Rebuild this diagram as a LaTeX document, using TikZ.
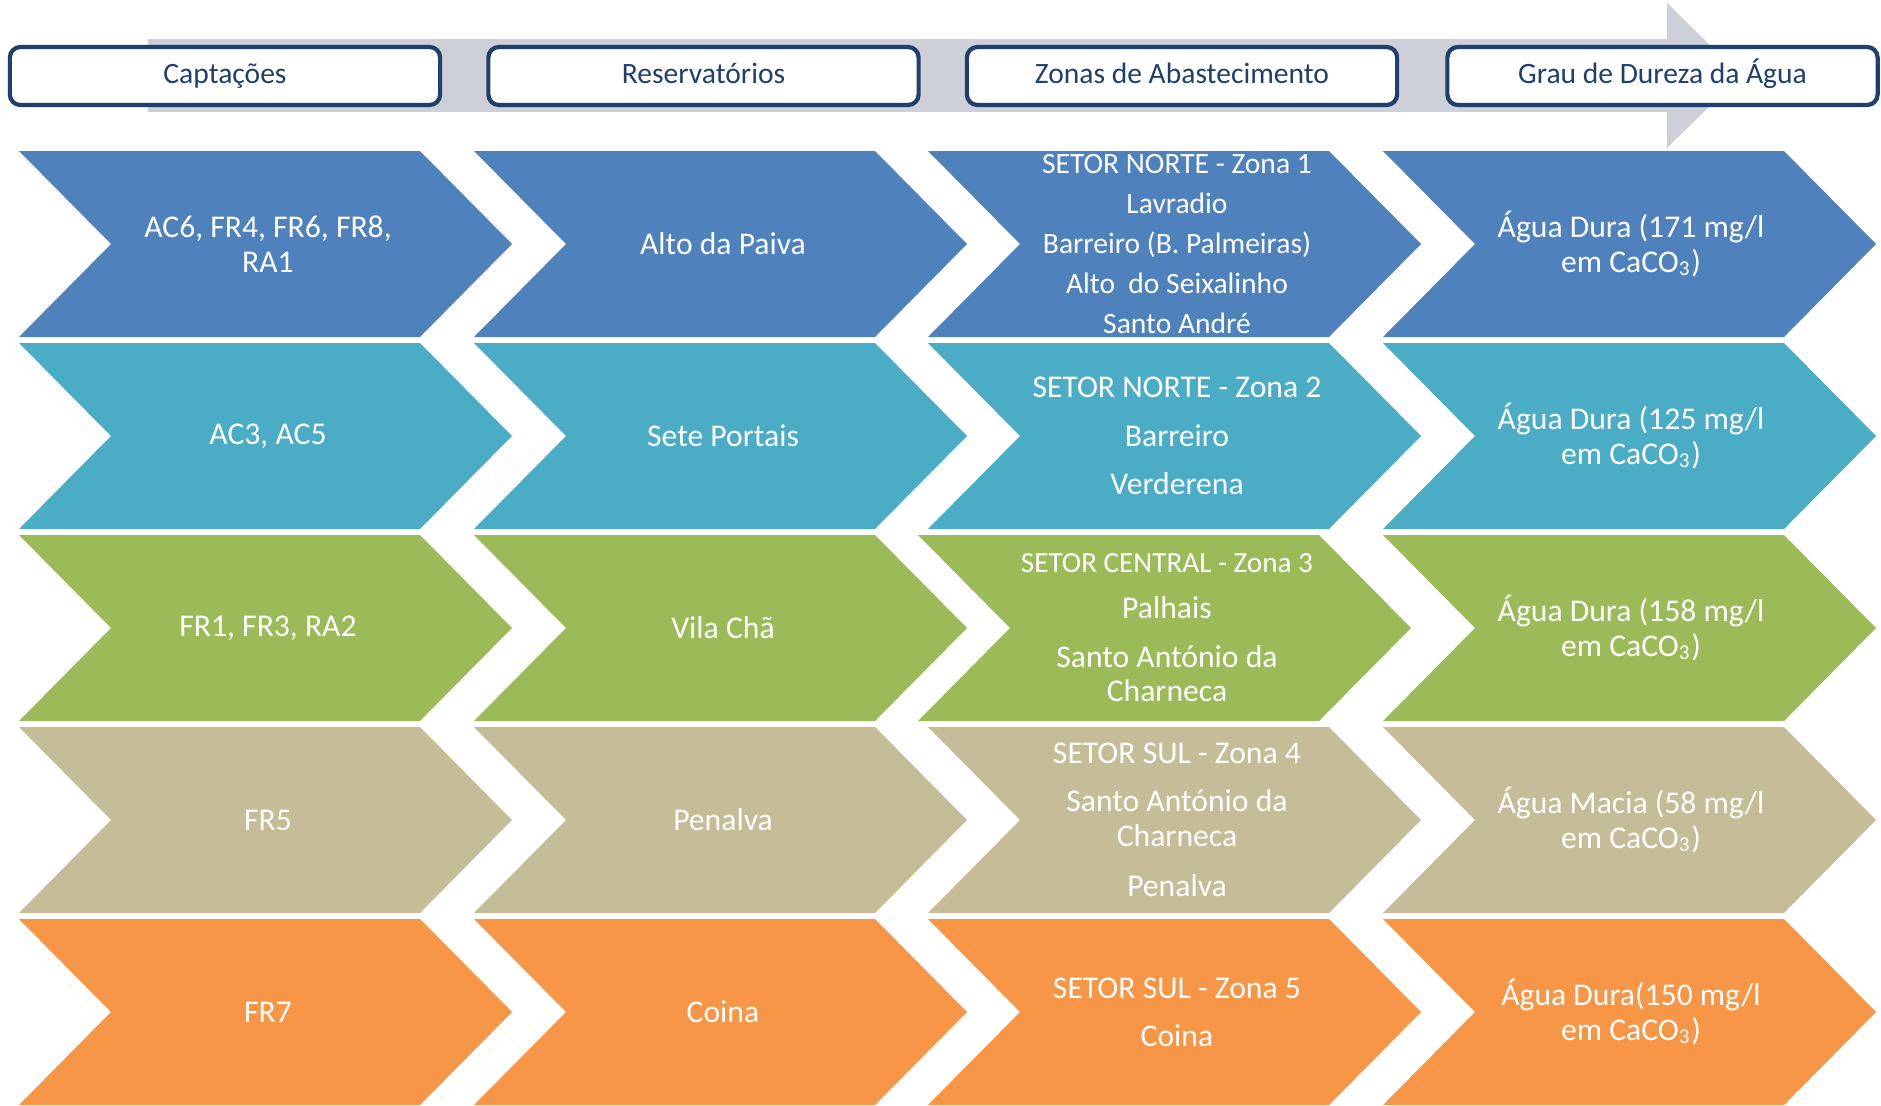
\documentclass[tikz,border=0pt]{standalone}
\usepackage{fontspec}
\setmainfont{Carlito}

\definecolor{azul}{HTML}{4F81BD}
\definecolor{ciano}{HTML}{4BACC6}
\definecolor{verde}{HTML}{9BBB59}
\definecolor{bege}{HTML}{C4BD97}
\definecolor{laranja}{HTML}{F79646}
\definecolor{marinho}{HTML}{1F3F6E}
\definecolor{cinza}{HTML}{CDD0D9}

\tikzset{
  cabecalho/.style={draw=marinho, line width=1.2pt, fill=white, rounded corners=3pt,
    minimum width=4.3cm, minimum height=0.58cm, text height=6pt, text depth=2pt,
    text=marinho, font=\fontsize{8.4}{10}\selectfont},
  texto/.style={text=white, align=center, inner sep=0pt, font=\fontsize{9}{9.9}\selectfont},
  miudo/.style={font=\fontsize{8.4}{9.2}\selectfont},
}

% seta: x esquerdo, y topo, cor
\newcommand{\seta}[3]{\fill[#3] (#1,#2) -- ++(401,0) -- ++(92,93) -- ++(-92,93) -- ++(-401,0) -- ++(92,-93) -- cycle;}

\begin{document}
\begin{tikzpicture}[x=0.01cm, y=-0.01cm]
\useasboundingbox (0,0) rectangle (1881,1105);

%Cabecalho
\fill[cinza] (148,39) rectangle (1667,112);
\fill[cinza] (1667,3) -- (1741,75.5) -- (1667,148) -- cycle;
\node[cabecalho] (captacoes) at (225,76) {Captações};
\node[cabecalho] (reservatorios) at (703.5,76) {Reservatórios};
\node[cabecalho] (zonas) at (1182,76) {Zonas de Abastecimento};
\node[cabecalho] (dureza) at (1662.5,76) {Grau de Dureza da Água};

%Setas
\foreach \y/\cor in {151/azul,343/ciano,535/verde,727/bege,919/laranja} {
  \foreach \x in {19,474,1383} {\seta{\x}{\y}{\cor}}
}
\foreach \y/\cor/\x in {151/azul/928,343/ciano/928,535/verde/918,727/bege/928,919/laranja/928} {\seta{\x}{\y}{\cor}}

%Captacoes
\node[texto] (capt1) at (268,244) {AC6, FR4, FR6, FR8,\\RA1};
\node[texto] (capt2) at (268,436) {AC3, AC5};
\node[texto] (capt3) at (268,628) {FR1, FR3, RA2};
\node[texto] (capt4) at (268,820) {FR5};
\node[texto] (capt5) at (268,1012) {FR7};

%Reservatorios
\node[texto] (res1) at (723,244) {Alto da Paiva};
\node[texto] (res2) at (723,436) {Sete Portais};
\node[texto] (res3) at (723,628) {Vila Chã};
\node[texto] (res4) at (723,820) {Penalva};
\node[texto] (res5) at (723,1012) {Coina};

%Zonas
\node[texto, miudo] (zona1) at (1177,244) {SETOR NORTE - Zona 1\\[2.2pt]Lavradio\\[2.2pt]Barreiro (B. Palmeiras)\\[2.2pt]Alto~ do Seixalinho\\[2.2pt]Santo André};
\node[texto] (zona2) at (1177,436) {SETOR NORTE - Zona 2\\[3.8pt]Barreiro\\[3.8pt]Verderena};
\node[texto] (zona3) at (1167,628) {{\fontsize{8.3}{9}\selectfont SETOR CENTRAL - Zona 3}\\[3.2pt]Palhais\\[3.8pt]Santo António da\\Charneca};
\node[texto] (zona4) at (1177,820) {SETOR SUL - Zona 4\\[3.8pt]Santo António da\\Charneca\\[4.3pt]Penalva};
\node[texto] (zona5) at (1177,1012) {SETOR SUL - Zona 5\\[3.8pt]Coina};

%Dureza
\node[texto] (dur1) at (1631,244) {Água Dura (171 mg/l\\em CaCO\textsubscript{3})};
\node[texto] (dur2) at (1631,436) {Água Dura (125 mg/l\\em CaCO\textsubscript{3})};
\node[texto] (dur3) at (1631,628) {Água Dura (158 mg/l\\em CaCO\textsubscript{3})};
\node[texto] (dur4) at (1631,820) {Água Macia (58 mg/l\\em CaCO\textsubscript{3})};
\node[texto] (dur5) at (1631,1012) {Água Dura(150 mg/l\\em CaCO\textsubscript{3})};

\end{tikzpicture}
\end{document}
